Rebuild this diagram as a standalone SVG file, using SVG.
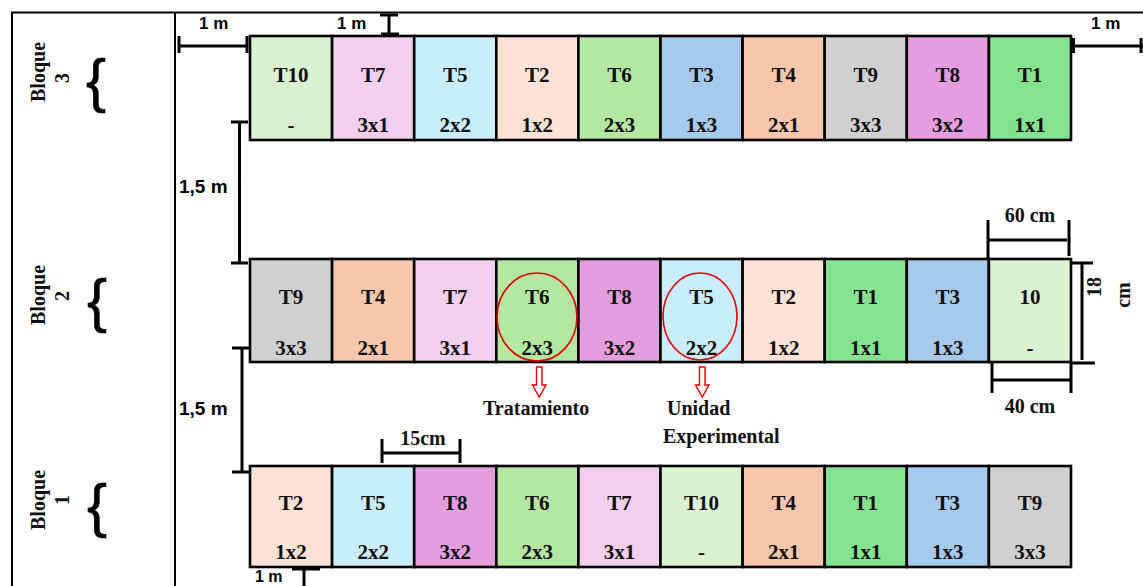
<svg xmlns="http://www.w3.org/2000/svg" width="1143" height="586" viewBox="0 0 1143 586">
<style>
.c{stroke:#000;stroke-width:2.6}
.t{font-family:"Liberation Serif","Times New Roman",serif;font-weight:bold;font-size:21px;text-anchor:middle;fill:#111}
.s{font-family:"Liberation Serif","Times New Roman",serif;font-weight:bold;font-size:20px;fill:#111}
.m{font-family:"Liberation Sans",Arial,sans-serif;font-weight:bold;font-size:17px;fill:#000}
.m2{font-family:"Liberation Sans",Arial,sans-serif;font-weight:bold;font-size:19px;fill:#000}
.br{font-family:"Liberation Sans",Arial,sans-serif;font-size:60px;text-anchor:middle;fill:#000;stroke:#000;stroke-width:0.6}
.d line{stroke:#000;stroke-width:3}
.f line{stroke:#000;stroke-width:2}
.red{fill:none;stroke:#e00000;stroke-width:1.6}
.arr{fill:#fff;stroke:#e00000;stroke-width:1.4}
.T1{fill:#84E291}.T2{fill:#FBE2D5}.T3{fill:#A6C9EC}.T4{fill:#F6C6AD}.T5{fill:#CAEDFB}
.T6{fill:#B5E6A2}.T7{fill:#F2CEEF}.T8{fill:#E59EDD}.T9{fill:#D0D0D0}.T10{fill:#DAF2D0}
</style>
<rect width="1143" height="586" fill="#fff"/>
<g id="frame" class="f">
<line x1="11" y1="12.5" x2="1143" y2="12.5"/>
<line x1="12" y1="12" x2="12" y2="586"/>
<line x1="175" y1="12" x2="175" y2="586"/>
</g>
<g id="block-labels">
<text class="s" text-anchor="middle" transform="translate(45,72) rotate(-90)">Bloque</text>
<text class="s" text-anchor="middle" transform="translate(69,78) rotate(-90)">3</text>
<text class="br" x="96" y="101">{</text>
<text class="s" text-anchor="middle" transform="translate(45,295) rotate(-90)">Bloque</text>
<text class="s" text-anchor="middle" transform="translate(69,296) rotate(-90)">2</text>
<text class="br" x="97" y="321">{</text>
<text class="s" text-anchor="middle" transform="translate(45,500) rotate(-90)">Bloque</text>
<text class="s" text-anchor="middle" transform="translate(69,500) rotate(-90)">1</text>
<text class="br" x="97" y="526">{</text>
</g>
<g id="bloque3">
<g id="b3-1"><rect class="c T10" x="250" y="36" width="82.1" height="104"/><text class="t" x="291.05" y="82">T10</text><text class="t" x="291.05" y="132">-</text></g>
<g id="b3-2"><rect class="c T7" x="332.1" y="36" width="82.1" height="104"/><text class="t" x="373.15" y="82">T7</text><text class="t" x="373.15" y="132">3x1</text></g>
<g id="b3-3"><rect class="c T5" x="414.2" y="36" width="82.1" height="104"/><text class="t" x="455.25" y="82">T5</text><text class="t" x="455.25" y="132">2x2</text></g>
<g id="b3-4"><rect class="c T2" x="496.3" y="36" width="82.1" height="104"/><text class="t" x="537.35" y="82">T2</text><text class="t" x="537.35" y="132">1x2</text></g>
<g id="b3-5"><rect class="c T6" x="578.4" y="36" width="82.1" height="104"/><text class="t" x="619.45" y="82">T6</text><text class="t" x="619.45" y="132">2x3</text></g>
<g id="b3-6"><rect class="c T3" x="660.5" y="36" width="82.1" height="104"/><text class="t" x="701.55" y="82">T3</text><text class="t" x="701.55" y="132">1x3</text></g>
<g id="b3-7"><rect class="c T4" x="742.6" y="36" width="82.1" height="104"/><text class="t" x="783.65" y="82">T4</text><text class="t" x="783.65" y="132">2x1</text></g>
<g id="b3-8"><rect class="c T9" x="824.7" y="36" width="82.1" height="104"/><text class="t" x="865.75" y="82">T9</text><text class="t" x="865.75" y="132">3x3</text></g>
<g id="b3-9"><rect class="c T8" x="906.8" y="36" width="82.1" height="104"/><text class="t" x="947.85" y="82">T8</text><text class="t" x="947.85" y="132">3x2</text></g>
<g id="b3-10"><rect class="c T1" x="988.9" y="36" width="82.1" height="104"/><text class="t" x="1029.95" y="82">T1</text><text class="t" x="1029.95" y="132">1x1</text></g>
</g>
<g id="bloque2">
<g id="b2-1"><rect class="c T9" x="250" y="259" width="82.1" height="103"/><text class="t" x="291.05" y="304">T9</text><text class="t" x="291.05" y="355">3x3</text></g>
<g id="b2-2"><rect class="c T4" x="332.1" y="259" width="82.1" height="103"/><text class="t" x="373.15" y="304">T4</text><text class="t" x="373.15" y="355">2x1</text></g>
<g id="b2-3"><rect class="c T7" x="414.2" y="259" width="82.1" height="103"/><text class="t" x="455.25" y="304">T7</text><text class="t" x="455.25" y="355">3x1</text></g>
<g id="b2-4"><rect class="c T6" x="496.3" y="259" width="82.1" height="103"/><text class="t" x="537.35" y="304">T6</text><text class="t" x="537.35" y="355">2x3</text></g>
<g id="b2-5"><rect class="c T8" x="578.4" y="259" width="82.1" height="103"/><text class="t" x="619.45" y="304">T8</text><text class="t" x="619.45" y="355">3x2</text></g>
<g id="b2-6"><rect class="c T5" x="660.5" y="259" width="82.1" height="103"/><text class="t" x="701.55" y="304">T5</text><text class="t" x="701.55" y="355">2x2</text></g>
<g id="b2-7"><rect class="c T2" x="742.6" y="259" width="82.1" height="103"/><text class="t" x="783.65" y="304">T2</text><text class="t" x="783.65" y="355">1x2</text></g>
<g id="b2-8"><rect class="c T1" x="824.7" y="259" width="82.1" height="103"/><text class="t" x="865.75" y="304">T1</text><text class="t" x="865.75" y="355">1x1</text></g>
<g id="b2-9"><rect class="c T3" x="906.8" y="259" width="82.1" height="103"/><text class="t" x="947.85" y="304">T3</text><text class="t" x="947.85" y="355">1x3</text></g>
<g id="b2-10"><rect class="c T10" x="988.9" y="259" width="82.1" height="103"/><text class="t" x="1029.95" y="304">10</text><text class="t" x="1029.95" y="355">-</text></g>
</g>
<g id="bloque1">
<g id="b1-1"><rect class="c T2" x="250" y="466" width="82.1" height="101"/><text class="t" x="291.05" y="510">T2</text><text class="t" x="291.05" y="559">1x2</text></g>
<g id="b1-2"><rect class="c T5" x="332.1" y="466" width="82.1" height="101"/><text class="t" x="373.15" y="510">T5</text><text class="t" x="373.15" y="559">2x2</text></g>
<g id="b1-3"><rect class="c T8" x="414.2" y="466" width="82.1" height="101"/><text class="t" x="455.25" y="510">T8</text><text class="t" x="455.25" y="559">3x2</text></g>
<g id="b1-4"><rect class="c T6" x="496.3" y="466" width="82.1" height="101"/><text class="t" x="537.35" y="510">T6</text><text class="t" x="537.35" y="559">2x3</text></g>
<g id="b1-5"><rect class="c T7" x="578.4" y="466" width="82.1" height="101"/><text class="t" x="619.45" y="510">T7</text><text class="t" x="619.45" y="559">3x1</text></g>
<g id="b1-6"><rect class="c T10" x="660.5" y="466" width="82.1" height="101"/><text class="t" x="701.55" y="510">T10</text><text class="t" x="701.55" y="559">-</text></g>
<g id="b1-7"><rect class="c T4" x="742.6" y="466" width="82.1" height="101"/><text class="t" x="783.65" y="510">T4</text><text class="t" x="783.65" y="559">2x1</text></g>
<g id="b1-8"><rect class="c T1" x="824.7" y="466" width="82.1" height="101"/><text class="t" x="865.75" y="510">T1</text><text class="t" x="865.75" y="559">1x1</text></g>
<g id="b1-9"><rect class="c T3" x="906.8" y="466" width="82.1" height="101"/><text class="t" x="947.85" y="510">T3</text><text class="t" x="947.85" y="559">1x3</text></g>
<g id="b1-10"><rect class="c T9" x="988.9" y="466" width="82.1" height="101"/><text class="t" x="1029.95" y="510">T9</text><text class="t" x="1029.95" y="559">3x3</text></g>
</g>
<g id="connectors">
<g class="d">
<line x1="179" y1="46" x2="247" y2="46"/><line x1="179" y1="36" x2="179" y2="53"/><line x1="247" y1="36" x2="247" y2="53"/>
<line x1="380" y1="15" x2="398" y2="15"/><line x1="389" y1="15" x2="389" y2="34"/><line x1="381" y1="34" x2="399" y2="34"/>
<line x1="1072" y1="46" x2="1143" y2="46"/><line x1="1073" y1="38" x2="1073" y2="53" style="stroke-width:4"/><line x1="1141" y1="38" x2="1141" y2="53"/>
<line x1="231" y1="122" x2="248" y2="122"/><line x1="239.5" y1="122" x2="239.5" y2="263"/><line x1="231" y1="263" x2="248" y2="263"/>
<line x1="232" y1="348" x2="250" y2="348"/><line x1="242" y1="348" x2="242" y2="472"/><line x1="232" y1="472" x2="250" y2="472"/>
<line x1="988" y1="240" x2="1067" y2="240"/><line x1="988" y1="220" x2="988" y2="259"/><line x1="1069" y1="220" x2="1069" y2="256"/>
<line x1="1082" y1="263" x2="1082" y2="360"/><line x1="1071" y1="263" x2="1093" y2="263"/><line x1="1071" y1="363" x2="1095" y2="363"/>
<line x1="992" y1="380" x2="1071" y2="380"/><line x1="992" y1="362" x2="992" y2="393"/><line x1="1071" y1="362" x2="1071" y2="393"/>
<line x1="382" y1="453" x2="460" y2="453"/><line x1="382" y1="439" x2="382" y2="463"/><line x1="460" y1="439" x2="460" y2="463"/>
<line x1="292" y1="568.5" x2="320" y2="568.5" style="stroke-width:4"/><line x1="304" y1="568" x2="304" y2="586"/>
</g>
<ellipse class="red" cx="537" cy="317" rx="40" ry="44"/>
<ellipse class="red" cx="700" cy="316.5" rx="37" ry="43.5"/>
<polygon class="arr" points="536.5,367 542,367 542,385 546,385 539.2,397 532.5,385 536.5,385"/>
<polygon class="arr" points="699.5,367 705,367 705,385 709,385 702.2,397 695.5,385 699.5,385"/>
</g>
<g id="labels">
<text class="m" x="199" y="29">1 m</text>
<text class="m" x="337" y="29">1 m</text>
<text class="m" x="1091" y="29">1 m</text>
<text class="m2" x="179" y="193">1,5 m</text>
<text class="m2" x="179" y="415">1,5 m</text>
<text class="m" x="255" y="582" style="font-size:16px">1 m</text>
<text class="s" x="1030" y="222" text-anchor="middle">60 cm</text>
<text class="s" x="1030" y="413" text-anchor="middle">40 cm</text>
<text class="s" x="423" y="445" text-anchor="middle">15cm</text>
<text class="s" text-anchor="middle" transform="translate(1101,287) rotate(-90)">18</text>
<text class="s" text-anchor="middle" transform="translate(1130,295) rotate(-90)">cm</text>
<text class="s" x="483" y="415">Tratamiento</text>
<text class="s" x="667" y="415">Unidad</text>
<text class="s" x="663" y="443">Experimental</text>
</g>
</svg>
